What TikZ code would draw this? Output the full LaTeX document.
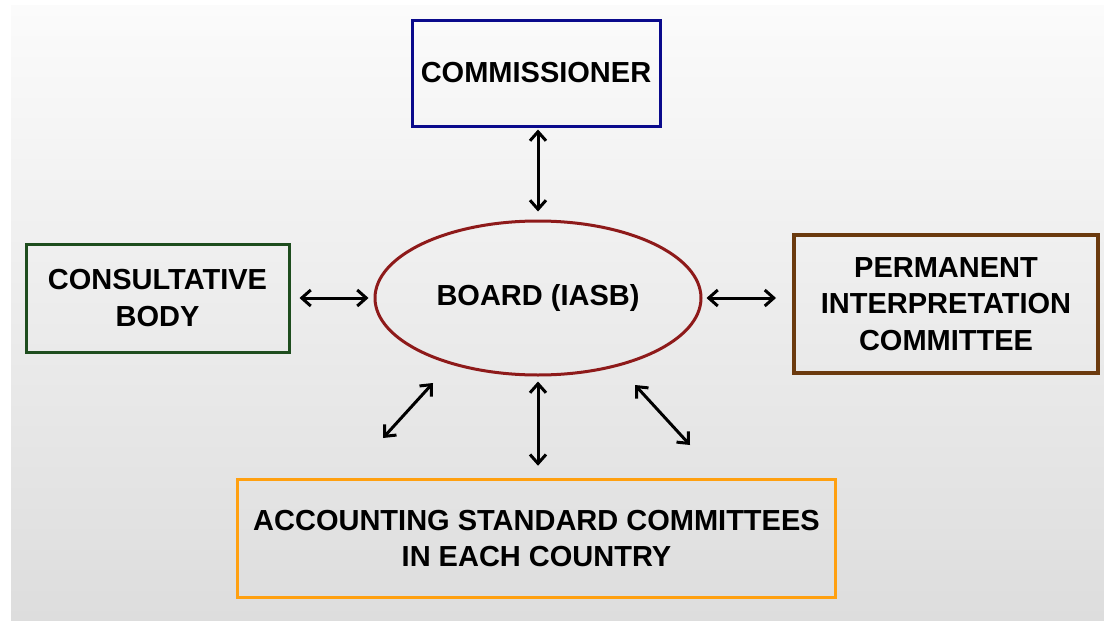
\documentclass[tikz,border=0pt]{standalone}
\usepackage{fontspec}
\setmainfont{Liberation Sans}
\usetikzlibrary{arrows.meta,shapes.geometric}
\definecolor{commblue}{HTML}{0A0A8C}
\definecolor{consgreen}{HTML}{1E4D1E}
\definecolor{permbrown}{HTML}{6B3A0E}
\definecolor{accorange}{HTML}{FFA010}
\definecolor{boardred}{HTML}{8E1A1A}
\tikzset{
  lbl/.style={font=\fontsize{29}{36.5}\selectfont\bfseries, align=center, text=black},
  box/.style={lbl, draw, rectangle, inner sep=0pt},
  conn/.style={{Straight Barb[length=9pt,width=16pt,line width=3pt]}-{Straight Barb[length=9pt,width=16pt,line width=3pt]}, line width=3pt, black},
}
\begin{document}
\begin{tikzpicture}[x=1pt,y=-1pt]
\useasboundingbox (0,0) rectangle (1104,621);
\fill[white] (0,0) rectangle (1104,621);
\shade[top color={rgb,255:red,251;green,251;blue,251}, bottom color={rgb,255:red,221;green,221;blue,221}] (11,5) rectangle (1104,621);

\node[box, draw=commblue, line width=3pt, minimum width=248, minimum height=106] (comm) at (536,73) {COMMISSIONER};
\node[box, draw=consgreen, line width=3pt, minimum width=263, minimum height=108] (cons) at (157.5,298) {CONSULTATIVE\\BODY};
\node[box, draw=permbrown, line width=4pt, minimum width=304, minimum height=138] (perm) at (946,304) {PERMANENT\\INTERPRETATION\\COMMITTEE};
\node[box, draw=accorange, line width=3.5pt, minimum width=598, minimum height=118] (acc) at (536.5,538.5) {ACCOUNTING STANDARD COMMITTEES\\IN EACH COUNTRY};
\node[lbl, draw=boardred, line width=3pt, ellipse, minimum width=326, minimum height=154, inner sep=0pt] (board) at (538,298) {BOARD (IASB)};

\coordinate (llA) at (433,383);
\coordinate (llB) at (383,438);
\coordinate (lrA) at (635,385);
\coordinate (lrB) at (690,445);

\draw[conn, shorten <=2pt, shorten >=8pt] (comm.south -| board.north) -- (board.north);
\draw[conn, shorten <=9pt, shorten >=5pt] (cons.east) -- (board.west);
\draw[conn, shorten <=4pt, shorten >=16pt] (board.east) -- (board.east -| perm.west);
\draw[conn, shorten <=5pt, shorten >=12pt] (board.south) -- (acc.north -| board.south);
\draw[conn] (llA) -- (llB);
\draw[conn] (lrA) -- (lrB);
\end{tikzpicture}
\end{document}
